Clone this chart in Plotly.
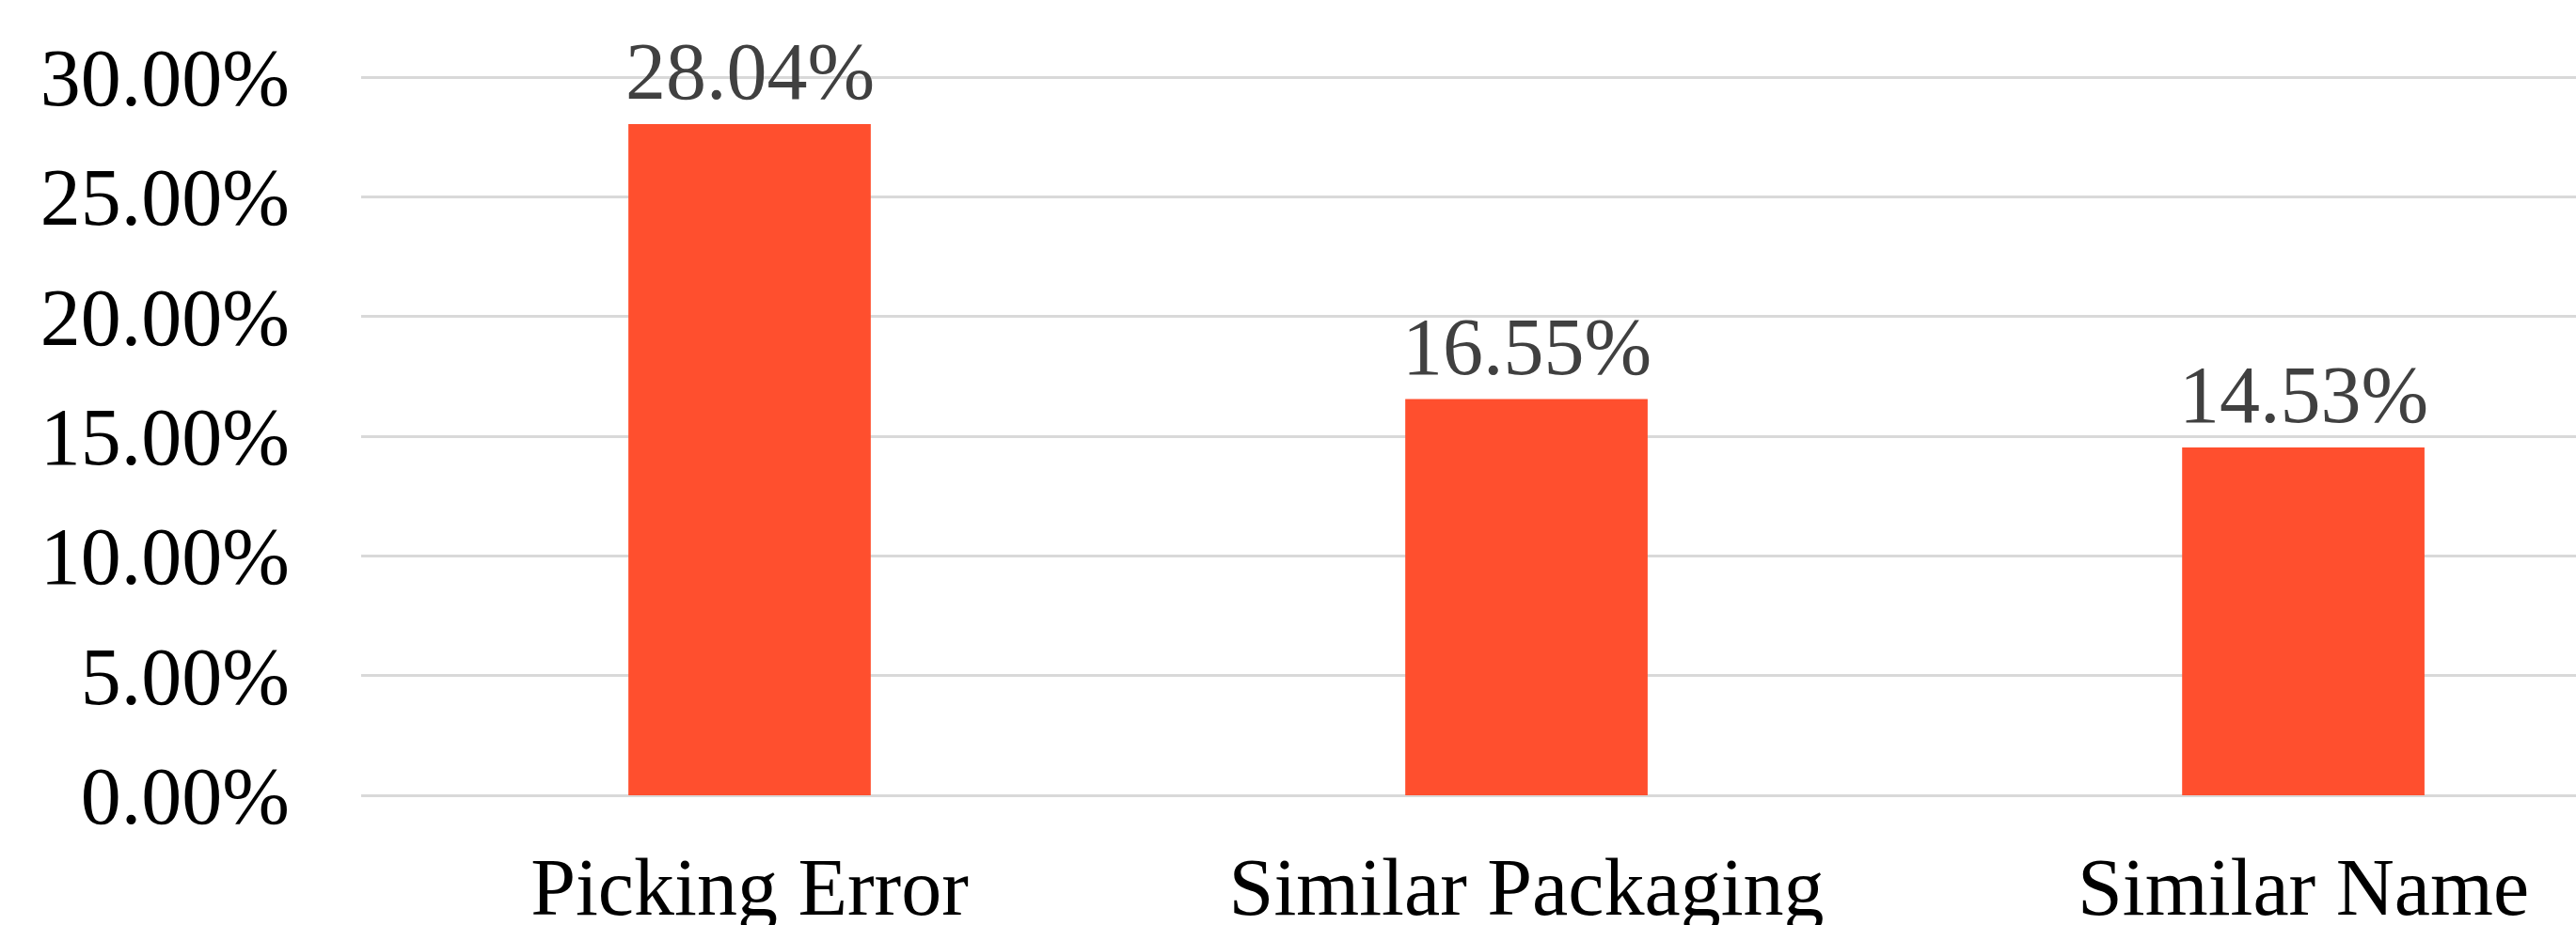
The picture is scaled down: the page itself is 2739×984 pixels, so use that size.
import plotly.graph_objects as go

categories = ["Picking Error", "Similar Packaging", "Similar Name"]
values = [28.04, 16.55, 14.53]
y_ticks = [0, 5, 10, 15, 20, 25, 30]

BAR_COLOR = "#FF4F2E"
FONT = "Liberation Serif, Times New Roman, serif"

fig = go.Figure()
fig.add_trace(go.Bar(
    x=categories,
    y=values,
    marker=dict(color=BAR_COLOR, line=dict(width=0)),
    hoverinfo="skip",
))

for c, v in zip(categories, values):
    fig.add_annotation(
        x=c, y=v, text=f"{v:.2f}%", showarrow=False,
        yanchor="bottom", yshift=6,
        font=dict(family=FONT, size=86, color="#404040"),
    )

fig.update_layout(
    width=2739, height=984,
    margin=dict(l=384, r=0, t=0, b=138, pad=0, autoexpand=False),
    paper_bgcolor="white", plot_bgcolor="white",
    bargap=0.688,
    showlegend=False,
    font=dict(family=FONT, color="black"),
)
fig.update_xaxes(
    type="category",
    range=[-0.5, 2.351],
    automargin=False,
    showgrid=False, zeroline=False, showline=False,
    ticks="", ticklabelstandoff=40,
    tickfont=dict(family=FONT, size=86, color="black"),
)
fig.update_yaxes(
    range=[0, 33.22],
    automargin=False,
    tickvals=y_ticks,
    ticktext=[f"{t:.2f}%" for t in y_ticks],
    showgrid=True, gridcolor="#D9D9D9", gridwidth=2.5,
    zeroline=True, zerolinecolor="#D9D9D9", zerolinewidth=2.5,
    showline=False, ticks="", ticklabelstandoff=75,
    tickfont=dict(family=FONT, size=86, color="black"),
)

fig.write_html("out.html")
